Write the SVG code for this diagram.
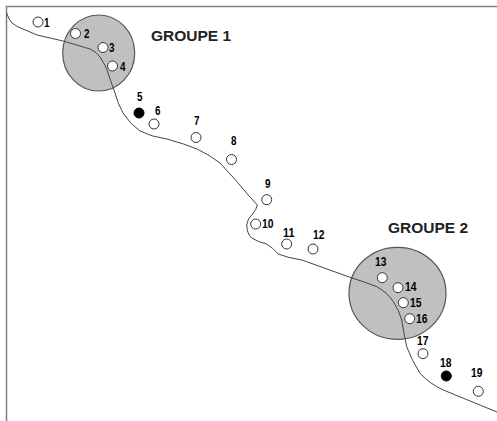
<svg xmlns="http://www.w3.org/2000/svg" width="497" height="421" viewBox="0 0 497 421">
<style>
.zone{fill:#c0c0c0;stroke:#555;stroke-width:1.2}
.n{fill:#fff;stroke:#333;stroke-width:1}
.k{fill:#000;stroke:#000;stroke-width:1}
text{font-family:"Liberation Sans",Arial,sans-serif;font-weight:bold;fill:#000}
.l{font-size:12px}
.g{font-size:15.5px;fill:#222}
.line{fill:none;stroke:#444;stroke-width:1}
.frame{fill:none;stroke:#808080;stroke-width:1.5}
</style>
<rect width="497" height="421" fill="#fff"/>
<path class="frame" d="M6.5 421V6.5H497"/>
<g id="zone1"><ellipse class="zone" cx="98.7" cy="53" rx="36" ry="38"/></g>
<g id="zone2"><ellipse class="zone" cx="397.5" cy="293.3" rx="48.5" ry="46"/></g>
<g id="connectors">
<path class="line" d="M6.5 13Q9 20 12 23Q17 27 23 29Q30 32 37 35L63 41Q80 46 90 49Q97 52 100 57Q104 63 107 70Q111 82 115 93Q118 104 123 113Q130 124 140 131Q152 137 167 139Q185 144 197 149Q210 155 220 163Q236 180 250 197L257.3 205Q256 210 253.3 213Q247 219 246.7 225Q247 234 251.7 238Q258 242 266.7 244Q273 248 278.3 254Q288 258 302 260L350 277.3Q365 282 376.7 286.7Q387 292 393.3 301.7Q399 310 401.7 320Q404 334 406.7 346.7Q412 361 420 373.3Q430 384 443.3 390Q470 401 497 412"/>
</g>
<g id="title1"><text class="g" x="151" y="40.5">GROUPE 1</text></g>
<g id="title2"><text class="g" x="388" y="233">GROUPE 2</text></g>
<g id="node1"><circle class="n" cx="38" cy="22" r="5"/><text class="l" x="44" y="27" textLength="5.5" lengthAdjust="spacingAndGlyphs">1</text></g>
<g id="node2"><circle class="n" cx="75.5" cy="33.5" r="5"/><text class="l" x="84" y="38" textLength="5.5" lengthAdjust="spacingAndGlyphs">2</text></g>
<g id="node3"><circle class="n" cx="103" cy="47.5" r="5"/><text class="l" x="109" y="52" textLength="5.5" lengthAdjust="spacingAndGlyphs">3</text></g>
<g id="node4"><circle class="n" cx="112.5" cy="66" r="5"/><text class="l" x="120" y="71" textLength="5.5" lengthAdjust="spacingAndGlyphs">4</text></g>
<g id="node5"><circle class="k" cx="139" cy="113" r="5"/><text class="l" x="137" y="100.5" textLength="5.5" lengthAdjust="spacingAndGlyphs">5</text></g>
<g id="node6"><circle class="n" cx="154" cy="124" r="5"/><text class="l" x="155" y="115" textLength="5.5" lengthAdjust="spacingAndGlyphs">6</text></g>
<g id="node7"><circle class="n" cx="196" cy="137.5" r="5"/><text class="l" x="194" y="125" textLength="5.5" lengthAdjust="spacingAndGlyphs">7</text></g>
<g id="node8"><circle class="n" cx="231.5" cy="159.5" r="5"/><text class="l" x="231" y="145" textLength="5.5" lengthAdjust="spacingAndGlyphs">8</text></g>
<g id="node9"><circle class="n" cx="266.7" cy="199.7" r="5"/><text class="l" x="265" y="188" textLength="5.5" lengthAdjust="spacingAndGlyphs">9</text></g>
<g id="node10"><circle class="n" cx="255.7" cy="224" r="5"/><text class="l" x="262" y="228" textLength="11.5" lengthAdjust="spacingAndGlyphs">10</text></g>
<g id="node11"><circle class="n" cx="286.7" cy="244" r="5"/><text class="l" x="283" y="237" textLength="11.5" lengthAdjust="spacingAndGlyphs">11</text></g>
<g id="node12"><circle class="n" cx="313" cy="249" r="5"/><text class="l" x="313" y="239" textLength="11.5" lengthAdjust="spacingAndGlyphs">12</text></g>
<g id="node13"><circle class="n" cx="382.3" cy="277.7" r="5"/><text class="l" x="375" y="266" textLength="11.5" lengthAdjust="spacingAndGlyphs">13</text></g>
<g id="node14"><circle class="n" cx="398" cy="287.7" r="5"/><text class="l" x="405" y="291" textLength="11.5" lengthAdjust="spacingAndGlyphs">14</text></g>
<g id="node15"><circle class="n" cx="403.3" cy="302.7" r="5"/><text class="l" x="410" y="307" textLength="11.5" lengthAdjust="spacingAndGlyphs">15</text></g>
<g id="node16"><circle class="n" cx="409.7" cy="318.7" r="5"/><text class="l" x="416" y="323" textLength="11.5" lengthAdjust="spacingAndGlyphs">16</text></g>
<g id="node17"><circle class="n" cx="423" cy="353.7" r="5"/><text class="l" x="417" y="345" textLength="11.5" lengthAdjust="spacingAndGlyphs">17</text></g>
<g id="node18"><circle class="k" cx="446.3" cy="376" r="5"/><text class="l" x="440" y="367" textLength="11.5" lengthAdjust="spacingAndGlyphs">18</text></g>
<g id="node19"><circle class="n" cx="478.3" cy="391.3" r="5"/><text class="l" x="471" y="377" textLength="11.5" lengthAdjust="spacingAndGlyphs">19</text></g>
</svg>
